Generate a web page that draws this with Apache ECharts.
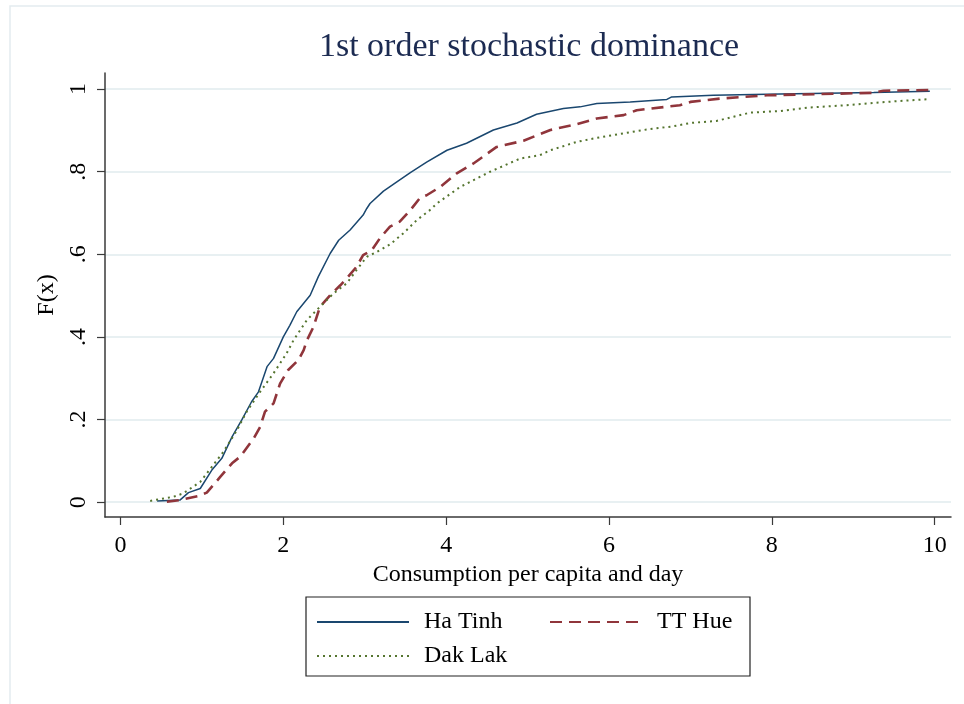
<!DOCTYPE html>
<html>
<head>
<meta charset="utf-8">
<script src="https://cdn.jsdelivr.net/npm/echarts@6/dist/echarts.min.js"></script>
<style>
html,body{margin:0;padding:0;background:#fff;}
#chart{width:964px;height:704px;}
</style>
</head>
<body>
<div id="chart"></div>
<script>
// ---- Data ----
var xTicks = [0, 2, 4, 6, 8, 10];
var yTicks = [0, 0.2, 0.4, 0.6, 0.8, 1];
var yTickLabels = {0: '0', 0.2: '.2', 0.4: '.4', 0.6: '.6', 0.8: '.8', 1: '1'};

var haTinhX = [0.45,0.73,0.835,0.98,1.12,1.245,1.37,1.49,1.61,1.695,1.80,1.88,2.0,2.08,2.165,2.33,2.43,2.575,2.68,2.82,2.98,3.025,3.065,3.23,3.39,3.56,3.76,4.01,4.25,4.58,4.87,5.11,5.44,5.645,5.85,6.26,6.71,6.77,7.28,8.10,9.25,9.94];
var haTinhF = [0.003,0.005,0.023,0.033,0.077,0.106,0.158,0.199,0.243,0.267,0.328,0.348,0.400,0.428,0.461,0.501,0.546,0.602,0.634,0.659,0.695,0.711,0.723,0.753,0.775,0.798,0.823,0.852,0.869,0.901,0.918,0.939,0.953,0.957,0.965,0.969,0.975,0.981,0.985,0.988,0.992,0.995];

var ttHueX = [0.57,0.73,0.96,1.06,1.225,1.37,1.47,1.635,1.715,1.775,1.88,1.96,2.06,2.185,2.25,2.29,2.37,2.45,2.575,2.70,2.78,2.90,2.98,3.087,3.19,3.31,3.43,3.56,3.68,3.76,3.925,4.13,4.335,4.62,4.95,5.28,5.60,5.85,6.18,6.34,6.87,7.0,7.36,7.94,9.25,9.37,9.94];
var ttHueF = [0.001,0.005,0.015,0.023,0.061,0.094,0.110,0.154,0.182,0.219,0.239,0.287,0.320,0.344,0.368,0.392,0.424,0.473,0.501,0.525,0.542,0.570,0.598,0.610,0.640,0.667,0.679,0.707,0.737,0.743,0.763,0.796,0.820,0.860,0.875,0.901,0.915,0.929,0.937,0.949,0.961,0.969,0.977,0.985,0.991,0.996,0.998];

var dakLakX = [0.365,0.65,0.77,0.98,1.12,1.265,1.43,1.55,1.715,1.88,2.04,2.125,2.29,2.45,2.615,2.78,2.90,3.025,3.15,3.31,3.475,3.64,3.80,3.885,4.17,4.54,4.91,5.15,5.28,5.60,5.85,6.18,6.46,6.79,7.0,7.32,7.53,7.73,8.10,8.43,8.92,9.33,9.94];
var dakLakF = [0.003,0.013,0.021,0.049,0.085,0.122,0.174,0.219,0.267,0.312,0.360,0.392,0.441,0.473,0.505,0.530,0.562,0.594,0.606,0.624,0.651,0.683,0.707,0.723,0.763,0.800,0.832,0.840,0.852,0.872,0.882,0.893,0.902,0.910,0.918,0.923,0.933,0.943,0.947,0.955,0.961,0.968,0.976];

function pairs(xs, ys) { return xs.map(function (x, i) { return [x, ys[i]]; }); }

var FONT = 'Liberation Serif, Times New Roman, serif';
var chart = echarts.init(document.getElementById('chart'), null, {renderer: 'canvas'});
chart.setOption({
  backgroundColor: '#ffffff',
  animation: false,
  graphic: [{
    type: 'rect', silent: true, z: -1,
    shape: {x: 10, y: 6, width: 1000, height: 760},
    style: {fill: 'none', stroke: '#e4ebef', lineWidth: 1.5}
  }],
  title: {
    text: '1st order stochastic dominance',
    left: 524, top: 25, textAlign: 'center',
    textStyle: {fontFamily: FONT, fontSize: 34, fontWeight: 'normal', color: '#1c2b52'}
  },
  grid: {left: 105, right: 13, top: 73, bottom: 187, containLabel: false},
  legend: {
    left: 306, top: 597,
    orient: 'horizontal',
    width: 440,
    padding: [12, 10, 7, 10],
    itemGap: 8,
    itemWidth: 92, itemHeight: 14,
    borderColor: '#222', borderWidth: 1.2, borderRadius: 0,
    backgroundColor: '#fff',
    itemStyle: {color: 'rgba(0,0,0,0)', borderWidth: 0, opacity: 0},
    textStyle: {fontFamily: FONT, fontSize: 24, color: '#000', lineHeight: 26, padding: [0, 0, 0, 10]},
    data: [
      {name: 'Ha Tinh', textStyle: {width: 117}},
      {name: 'TT Hue', textStyle: {width: 83}},
      {name: 'Dak Lak', textStyle: {width: 117}}
    ]
  },
  xAxis: {
    type: 'value', min: -0.19, max: 10.2,
    name: 'Consumption per capita and day', nameLocation: 'middle', nameGap: 45,
    nameTextStyle: {fontFamily: FONT, fontSize: 24, color: '#000'},
    axisLine: {show: true, onZero: false, lineStyle: {color: '#3a3a3a', width: 1.5}},
    axisTick: {show: true, length: 8, inside: false, customValues: xTicks, lineStyle: {color: '#3a3a3a', width: 1.2}},
    axisLabel: {customValues: xTicks, margin: 17, fontFamily: FONT, fontSize: 24, color: '#000'},
    splitLine: {show: false}
  },
  yAxis: {
    type: 'value', min: -0.036, max: 1.039,
    name: 'F(x)', nameLocation: 'middle', nameGap: 46, nameRotate: 90,
    nameTextStyle: {fontFamily: FONT, fontSize: 24, color: '#000'},
    axisLine: {show: true, onZero: false, lineStyle: {color: '#3a3a3a', width: 1.5}},
    axisTick: {show: true, length: 8, inside: false, customValues: yTicks, lineStyle: {color: '#3a3a3a', width: 1.2}},
    axisLabel: {customValues: yTicks, rotate: 90, margin: 14, fontFamily: FONT, fontSize: 24, color: '#000',
      formatter: function (v) { var k = Math.round(v * 10) / 10; return yTickLabels[k] !== undefined ? yTickLabels[k] : ''; }},
    splitLine: {show: true, lineStyle: {color: '#e8f0f2', width: 2}}
  },
  series: [
    {name: 'Ha Tinh', type: 'line', data: pairs(haTinhX, haTinhF), symbol: 'none', showSymbol: false,
      color: '#1a476f', lineStyle: {color: '#1a476f', width: 1.5, type: 'solid'}},
    {name: 'TT Hue', type: 'line', data: pairs(ttHueX, ttHueF), symbol: 'none', showSymbol: false,
      color: '#90353b', lineStyle: {color: '#90353b', width: 2.6, type: [12, 7]}},
    {name: 'Dak Lak', type: 'line', data: pairs(dakLakX, dakLakF), symbol: 'none', showSymbol: false,
      color: '#55752f', lineStyle: {color: '#55752f', width: 2, type: [2, 4]}}
  ]
});
</script>
</body>
</html>
